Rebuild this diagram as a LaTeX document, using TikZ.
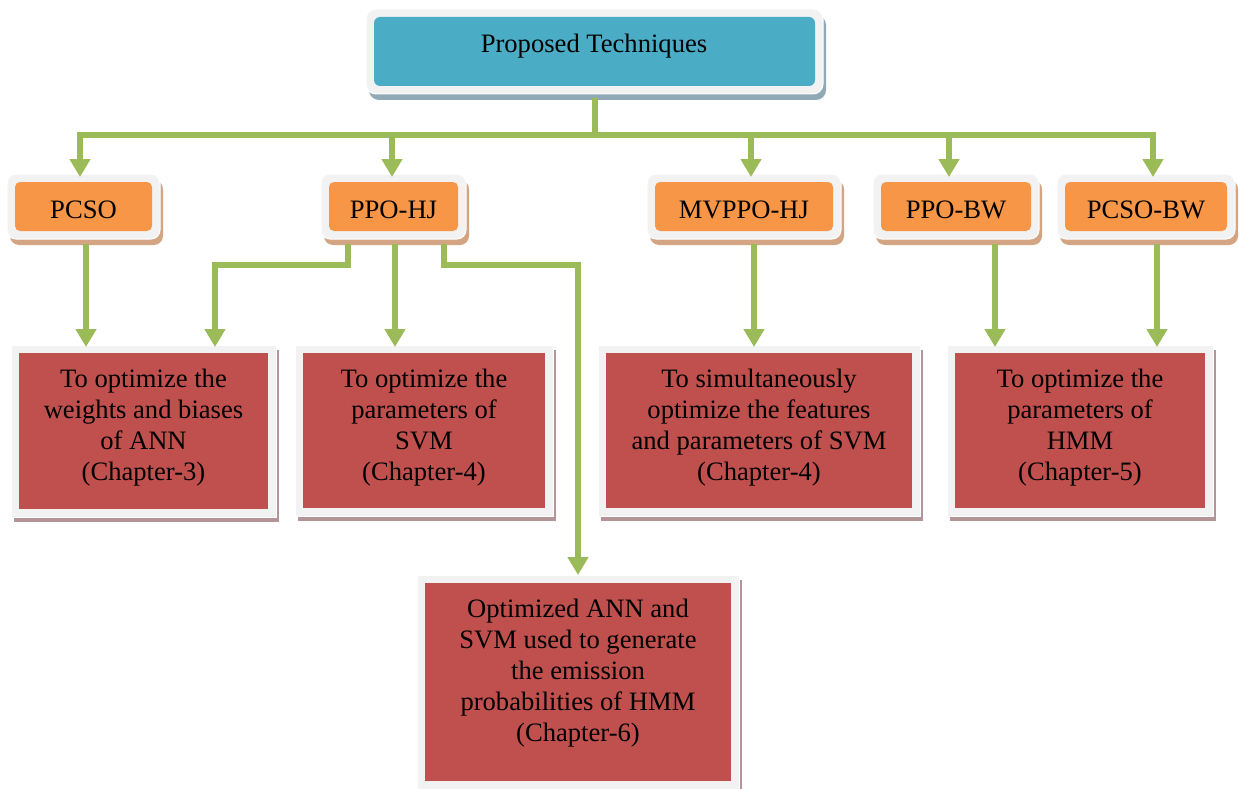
\documentclass[tikz,border=0pt]{standalone}
\usepackage{fontspec}
\setmainfont{Liberation Serif}
\usetikzlibrary{arrows.meta,calc}
\pgfdeclarelayer{background}
\pgfsetlayers{background,main}

\definecolor{headblue}{HTML}{4BACC6}
\definecolor{headshadow}{HTML}{8FAAB5}
\definecolor{methodorange}{HTML}{F79646}
\definecolor{methodshadow}{HTML}{D3A583}
\definecolor{goalred}{HTML}{C0504D}
\definecolor{goalshadow}{HTML}{B39597}
\definecolor{framegrey}{HTML}{F2F2F2}
\definecolor{linkgreen}{HTML}{9BBB59}

\newcommand{\boxfont}{\fontsize{26.6pt}{31pt}\selectfont}

\tikzset{
  x=1pt, y=-1pt,
  plainbox/.style={inner sep=0pt, outer sep=0pt},
  headbox/.style={plainbox, fill=headblue, rounded corners=6pt},
  methodbox/.style={plainbox, fill=methodorange, rounded corners=5pt, minimum height=49pt},
  goalbox/.style={plainbox, fill=goalred},
  boxtext/.style={font=\boxfont, inner sep=0pt, anchor=base},
  goaltext/.style={font=\boxfont, inner sep=0pt, anchor=north, align=center},
  link/.style={draw=linkgreen, line width=6pt, line join=miter},
  arrowlink/.style={link, -{Triangle[width=20pt,length=18pt]}},
}

\begin{document}
\begin{tikzpicture}
\useasboundingbox (0,0) rectangle (1239,789);

% root
\node[headbox, minimum width=441pt, minimum height=69pt] (head) at (594.5,51.5) {};
\node[boxtext] (headText) at (594,53) {Proposed Techniques};

% techniques
\node[methodbox, minimum width=137pt] (pcso) at (83.5,206.5) {};
\node[methodbox, minimum width=129pt] (ppohj) at (393.5,206.5) {};
\node[methodbox, minimum width=178pt] (mvppohj) at (744,206.5) {};
\node[methodbox, minimum width=150pt] (ppobw) at (956,206.5) {};
\node[methodbox, minimum width=162pt] (pcsobw) at (1146,206.5) {};
\node[boxtext] (pcsoText) at (83.5,218) {PCSO};
\node[boxtext] (ppohjText) at (393.5,218) {PPO-HJ};
\node[boxtext] (mvppohjText) at (744,218) {MVPPO-HJ};
\node[boxtext] (ppobwText) at (956,218) {PPO-BW};
\node[boxtext] (pcsobwText) at (1146,218) {PCSO-BW};

% goals
\node[goalbox, minimum width=249pt, minimum height=156pt] (ann) at (143.5,431) {};
\node[goalbox, minimum width=242pt, minimum height=155pt] (svm) at (424,430.5) {};
\node[goalbox, minimum width=306pt, minimum height=155pt] (mvsvm) at (759,430.5) {};
\node[goalbox, minimum width=250pt, minimum height=155pt] (hmm) at (1080,430.5) {};
\node[goalbox, minimum width=306pt, minimum height=198pt] (emit) at (578,682) {};

\node[goaltext] (annText) at (143.5,365.3) {\strut To optimize the\\weights and biases\\of ANN\\(Chapter-3)};
\node[goaltext] (svmText) at (424,365.3) {\strut To optimize the\\parameters of\\SVM\\(Chapter-4)};
\node[goaltext] (mvsvmText) at (759,365.3) {\strut To simultaneously\\optimize the features\\and parameters of SVM\\(Chapter-4)};
\node[goaltext] (hmmText) at (1080,365.3) {\strut To optimize the\\parameters of\\HMM\\(Chapter-5)};
\node[goaltext] (emitText) at (578,595.3) {\strut Optimized ANN and\\SVM used to generate\\the emission\\probabilities of HMM\\(Chapter-6)};

% light frames with coloured drop shadows
\begin{pgfonlayer}{background}
\foreach \n/\sh/\r/\dy in {head/headshadow/10/6, pcso/methodshadow/9/6, ppohj/methodshadow/9/6,
    mvppohj/methodshadow/9/6, ppobw/methodshadow/9/6, pcsobw/methodshadow/9/6,
    ann/goalshadow/0/5, svm/goalshadow/0/5, mvsvm/goalshadow/0/5, hmm/goalshadow/0/5, emit/goalshadow/0/5} {
  \fill[\sh, rounded corners=\r pt]
    ([xshift=-5pt, yshift={(8-\dy)*1pt}]\n.north west) rectangle ([xshift=11pt, yshift={(-8-\dy)*1pt}]\n.south east);
  \filldraw[fill=framegrey, draw=white, line width=1pt, rounded corners=\r pt]
    ([xshift=-8pt, yshift=8pt]\n.north west) rectangle ([xshift=8pt, yshift=-8pt]\n.south east);
}
\end{pgfonlayer}

% root to techniques
\coordinate (hub) at (594.5,135);
\draw[link] ([yshift=-12pt]head.south) -- (hub);
\draw[arrowlink] (hub) -| ([xshift=-3.5pt, yshift=5pt]pcso.north);
\draw[arrowlink] (hub) -| ([xshift=-1.5pt, yshift=5pt]ppohj.north);
\draw[arrowlink] (hub) -| ([xshift=7pt, yshift=5pt]mvppohj.north);
\draw[arrowlink] (hub) -| ([xshift=-7pt, yshift=5pt]ppobw.north);
\draw[arrowlink] (hub) -| ([xshift=7pt, yshift=5pt]pcsobw.north);

% techniques to goals
\draw[arrowlink] ([xshift=2.5pt, yshift=-13pt]pcso.south) -- ([xshift=2.5pt, yshift=6pt]pcso.south |- ann.north);
\draw[arrowlink] ([xshift=-45.5pt, yshift=-13pt]ppohj.south) -- ++(0,21) -| ([xshift=71.5pt, yshift=6pt]ann.north);
\draw[arrowlink] ([xshift=1.5pt, yshift=-13pt]ppohj.south) -- ([xshift=1.5pt, yshift=6pt]ppohj.south |- svm.north);
\draw[arrowlink] ([xshift=50.5pt, yshift=-13pt]ppohj.south) -- ++(0,21) -| ([yshift=8pt]emit.north);
\draw[arrowlink] ([xshift=10pt, yshift=-13pt]mvppohj.south) -- ([xshift=10pt, yshift=6pt]mvppohj.south |- mvsvm.north);
\draw[arrowlink] ([xshift=39pt, yshift=-13pt]ppobw.south) -- ([xshift=39pt, yshift=6pt]ppobw.south |- hmm.north);
\draw[arrowlink] ([xshift=11pt, yshift=-13pt]pcsobw.south) -- ([xshift=11pt, yshift=6pt]pcsobw.south |- hmm.north);
\end{tikzpicture}
\end{document}
